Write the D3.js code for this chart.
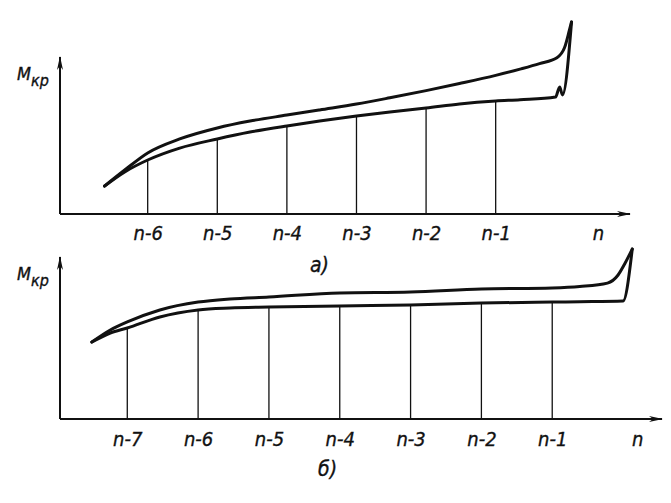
<!DOCTYPE html>
<html lang="ru">
<head>
<meta charset="UTF-8">
<title>Mкр по ступеням</title>
<script src="https://d3js.org/d3.v7.min.js"></script>
<style>
  body { margin: 0; background: #fff; }
  .lbl {
    font-family: "DejaVu Sans Condensed", "Liberation Sans Narrow", "DejaVu Sans", sans-serif;
    font-stretch: condensed; font-style: italic; fill: #111;
    stroke: #111; stroke-width: 0.35px;
  }
</style>
</head>
<body>
<svg id="chart" width="671" height="503"></svg>
<script>
// --- chart a) : step positions, n-k -> -k
const ticksA = [-6, -5, -4, -3, -2, -1, 0.47];
const tickLabelsA = ["n-6", "n-5", "n-4", "n-3", "n-2", "n-1", "n"];
const lowerA = [
  [-6.62, 17.8], [-6.33, 26.8], [-6, 34.4], [-5.54, 42.0], [-5, 47.8], [-4.53, 52.2],
  [-4, 56.1], [-3.53, 59.2], [-3, 62.4], [-2.52, 65.0], [-2, 67.5], [-1.52, 70.1],
  [-1, 72.0], [-0.65, 72.8], [-0.14, 74.5], [-0.08, 80.9], [-0.04, 75.8], [0.09, 122.3]
];
const upperA = [
  [-6.62, 17.8], [-6.33, 28.0], [-6, 38.9], [-5.54, 47.8], [-5, 54.8], [-4.53, 59.2],
  [-4, 63.0], [-3.53, 66.3], [-3, 70.0], [-2.52, 74.0], [-2, 78.6], [-1.52, 83.1],
  [-1, 88.3], [-0.65, 92.3], [-0.37, 95.8], [-0.12, 99.5], [-0.01, 106.0], [0.06, 117.2], [0.09, 122.3]
];

// --- chart б)
const ticksB = [-7, -6, -5, -4, -3, -2, -1, 0.2];
const tickLabelsB = ["n-7", "n-6", "n-5", "n-4", "n-3", "n-2", "n-1", "n"];
const lowerB = [
  [-7.5, 47.5], [-7.24, 53.1], [-7, 56.2], [-6.54, 63.0], [-6, 67.3], [-5.55, 68.5],
  [-5, 69.1], [-4, 69.8], [-3, 70.4], [-2, 71.6], [-1, 72.2], [-0.61, 72.4], [0, 72.8], [0.13, 104.9]
];
const upperB = [
  [-7.5, 47.5], [-7.24, 54.9], [-7, 59.9], [-6.54, 67.3], [-6, 72.2], [-5.55, 74.1],
  [-5, 75.3], [-4, 77.8], [-3, 78.4], [-2, 80.2], [-1, 80.9], [-0.61, 81.8],
  [-0.22, 83.9], [-0.07, 88.9], [0.03, 96.3], [0.13, 104.9]
];

const svg = d3.select("#chart");

const defs = svg.append("defs");
defs.append("marker")
  .attr("id", "arrow")
  .attr("viewBox", "0 -4 14 8")
  .attr("refX", 13).attr("refY", 0)
  .attr("markerWidth", 14).attr("markerHeight", 8)
  .attr("markerUnits", "userSpaceOnUse")
  .attr("orient", "auto")
  .append("path")
  .attr("d", "M0,-3 L14,0 L0,3 L4,0 Z")
  .attr("fill", "#111");

function drawPanel(cfg) {
  const x = d3.scaleLinear().domain(cfg.xDomain).range(cfg.xRange);
  const y = d3.scaleLinear().domain([0, 100]).range(cfg.yRange);
  const g = svg.append("g");
  const x0 = cfg.xDomain[0];

  // drop lines from axis to the lower curve
  const steps = cfg.ticks.filter(t => Number.isInteger(t));
  g.selectAll(".drop").data(steps).enter().append("line")
    .attr("x1", d => x(d)).attr("x2", d => x(d))
    .attr("y1", y(0))
    .attr("y2", d => y(cfg.lower.find(p => p[0] === d)[1]))
    .attr("stroke", "#111").attr("stroke-width", 1.3);

  // axes
  g.append("line")
    .attr("x1", x(x0)).attr("x2", x(x0))
    .attr("y1", y(0)).attr("y2", y(100))
    .attr("stroke", "#111").attr("stroke-width", 2)
    .attr("marker-end", "url(#arrow)");
  g.append("line")
    .attr("x1", x(x0)).attr("x2", x(cfg.xDomain[1]))
    .attr("y1", y(0)).attr("y2", y(0))
    .attr("stroke", "#111").attr("stroke-width", 2)
    .attr("marker-end", "url(#arrow)");

  const ax = g.append("g")
    .attr("transform", `translate(0,${y(0)})`)
    .call(d3.axisBottom(x)
      .tickValues(cfg.ticks)
      .tickSize(0)
      .tickPadding(cfg.pad)
      .tickFormat((d, i) => cfg.labels[i]));
  ax.select(".domain").remove();
  ax.selectAll("text")
    .attr("class", "lbl")
    .attr("font-size", 20)
    .attr("fill", "#111");
  ax.attr("font-family", null).attr("font-size", null);

  // curves
  const line = d3.line()
    .x(d => x(d[0])).y(d => y(d[1]))
    .curve(d3.curveMonotoneX);
  [cfg.lower, cfg.upper].forEach(s => {
    g.append("path")
      .datum(s)
      .attr("d", line)
      .attr("fill", "none")
      .attr("stroke", "#111")
      .attr("stroke-width", 3)
      .attr("stroke-linejoin", "round")
      .attr("stroke-linecap", "round");
  });

  // y label Mкр
  const t = g.append("text")
    .attr("class", "lbl")
    .attr("x", x(x0) - 43)
    .attr("y", y(100) + 23)
    .attr("font-size", 18);
  t.append("tspan").text("M");
  t.append("tspan").attr("dy", 6).attr("font-size", 16).text("кр");

  g.append("text")
    .attr("class", "lbl")
    .attr("x", cfg.caption[0]).attr("y", cfg.caption[1])
    .attr("font-size", 21)
    .text(cfg.captionText);
}

drawPanel({
  xDomain: [-7.26, 0.93], xRange: [60, 630], yRange: [214, 57],
  ticks: ticksA, labels: tickLabelsA, lower: lowerA, upper: upperA,
  pad: 12, caption: [310, 272], captionText: "а)"
});
drawPanel({
  xDomain: [-7.95, 0.55], xRange: [60, 662], yRange: [419, 257],
  ticks: ticksB, labels: tickLabelsB, lower: lowerB, upper: upperB,
  pad: 13, caption: [318, 476], captionText: "б)"
});
</script>
</body>
</html>
